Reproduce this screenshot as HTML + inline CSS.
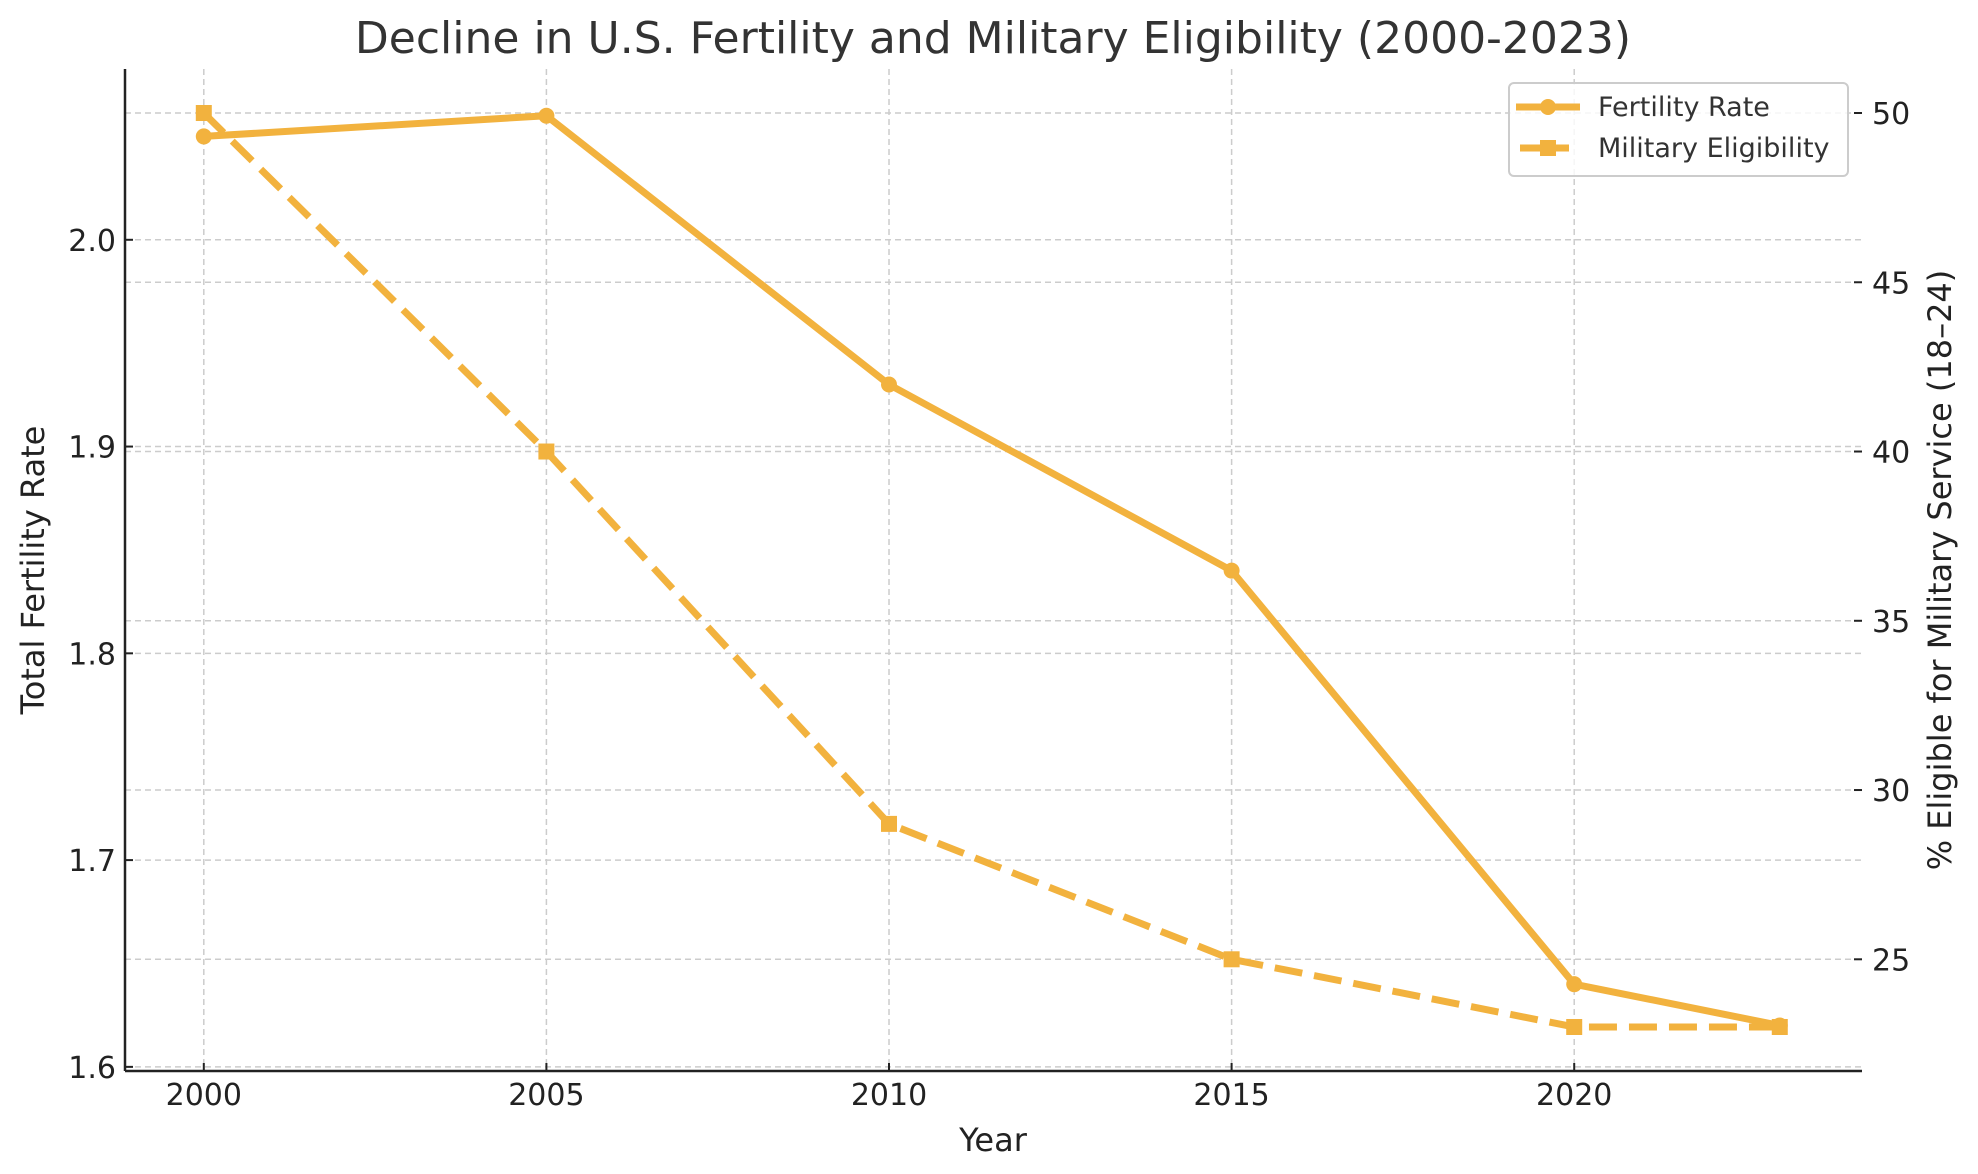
<!DOCTYPE html>
<html><head><meta charset="utf-8"><style>body{margin:0;background:#fff}svg text{font-family:"DejaVu Sans","Liberation Sans",sans-serif;fill:#222}</style></head>
<body>
<svg id="chart" width="1978" height="1169" xmlns="http://www.w3.org/2000/svg">
<g id="grid"></g>
<g id="series"></g>
<g id="axes"></g>
<text x="993" y="53" font-size="44" text-anchor="middle" style="fill:#333">Decline in U.S. Fertility and Military Eligibility (2000-2023)</text>
<text x="993" y="1151" font-size="32" text-anchor="middle">Year</text>
<text transform="translate(44,570) rotate(-90)" font-size="32" text-anchor="middle">Total Fertility Rate</text>
<text transform="translate(1951,570) rotate(-90)" font-size="32" text-anchor="middle">% Eligible for Military Service (18–24)</text>
<g>
<rect x="1509" y="83" width="339" height="93" rx="5" fill="#fff" fill-opacity="0.8" stroke="#ccc" stroke-width="2"/>
<line x1="1516" y1="107" x2="1580" y2="107" stroke="#f2b23e" stroke-width="7"/>
<circle cx="1548" cy="107" r="8" fill="#f2b23e"/>
<text x="1598" y="116" font-size="27" style="fill:#333">Fertility Rate</text>
<line x1="1520" y1="148" x2="1576" y2="148" stroke="#f2b23e" stroke-width="7" stroke-dasharray="20,9"/>
<rect x="1540" y="140" width="16" height="16" fill="#f2b23e"/>
<text x="1598" y="157" font-size="27" style="fill:#333">Military Eligibility</text>
</g>
</svg>
<script>
const years=[2000,2005,2010,2015,2020,2023];
const fertility=[2.05,2.06,1.93,1.84,1.64,1.62];
const military=[50,40,29,25,23,23];
const xTicks=[2000,2005,2010,2015,2020];
const yLeftTicks=[1.6,1.7,1.8,1.9,2.0];
const yRightTicks=[25,30,35,40,45,50];
const NS="http://www.w3.org/2000/svg";
const L=125,R=1862,T=69,B=1071;
const x=v=>L+(v-1998.85)/(2024.2-1998.85)*(R-L);
const yl=v=>B-(v-1.598)/(2.0826-1.598)*(B-T);
const yr=v=>B-(v-21.7)/(51.3-21.7)*(B-T);
function mk(tag,attrs,parent){const e=document.createElementNS(NS,tag);for(const k in attrs)e.setAttribute(k,attrs[k]);parent.appendChild(e);return e;}
const grid=document.getElementById('grid'),series=document.getElementById('series'),axes=document.getElementById('axes');
const gs={stroke:'#ccc','stroke-width':1.5,'stroke-dasharray':'6,4'};
xTicks.forEach(t=>{const g=mk('line',Object.assign({x1:x(t),x2:x(t),y1:T,y2:B},gs),grid);


mk('line',{x1:x(t),x2:x(t),y1:B,y2:B-8,stroke:'#222','stroke-width':2},axes);
const tx=mk('text',{x:x(t),y:B+34,'font-size':30,'text-anchor':'middle'},axes);tx.textContent=t;

});
yLeftTicks.forEach(t=>{const g=mk('line',Object.assign({x1:L,x2:R,y1:yl(t),y2:yl(t)},gs),grid);


mk('line',{x1:L,x2:L+8,y1:yl(t),y2:yl(t),stroke:'#222','stroke-width':2},axes);
const tx=mk('text',{x:L-9,y:yl(t)+11,'font-size':30,'text-anchor':'end'},axes);tx.textContent=t.toFixed(1);

});
yRightTicks.forEach(t=>{const g=mk('line',Object.assign({x1:L,x2:R,y1:yr(t),y2:yr(t)},gs),grid);


mk('line',{x1:R,x2:R-8,y1:yr(t),y2:yr(t),stroke:'#222','stroke-width':2},axes);
const tx=mk('text',{x:R+10,y:yr(t)+11,'font-size':30},axes);tx.textContent=t;

});
mk('line',{x1:L,x2:L,y1:T,y2:B,stroke:'#222','stroke-width':2.5},axes);
mk('line',{x1:L,x2:R,y1:B,y2:B,stroke:'#222','stroke-width':2.5},axes);
const c='#f2b23e';
const fl=mk('polyline',{points:years.map((yv,i)=>x(yv)+','+yl(fertility[i])).join(' '),fill:'none',stroke:c,'stroke-width':7,'stroke-linejoin':'round'},series);


const ml=mk('polyline',{points:years.map((yv,i)=>x(yv)+','+yr(military[i])).join(' '),fill:'none',stroke:c,'stroke-width':7,'stroke-dasharray':'28,12'},series);


years.forEach((yv,i)=>{const p=mk('circle',{cx:x(yv),cy:yl(fertility[i]),r:8,fill:c},series);


const q=mk('rect',{x:x(yv)-8,y:yr(military[i])-8,width:16,height:16,fill:c},series);

});
</script>
</body></html>
